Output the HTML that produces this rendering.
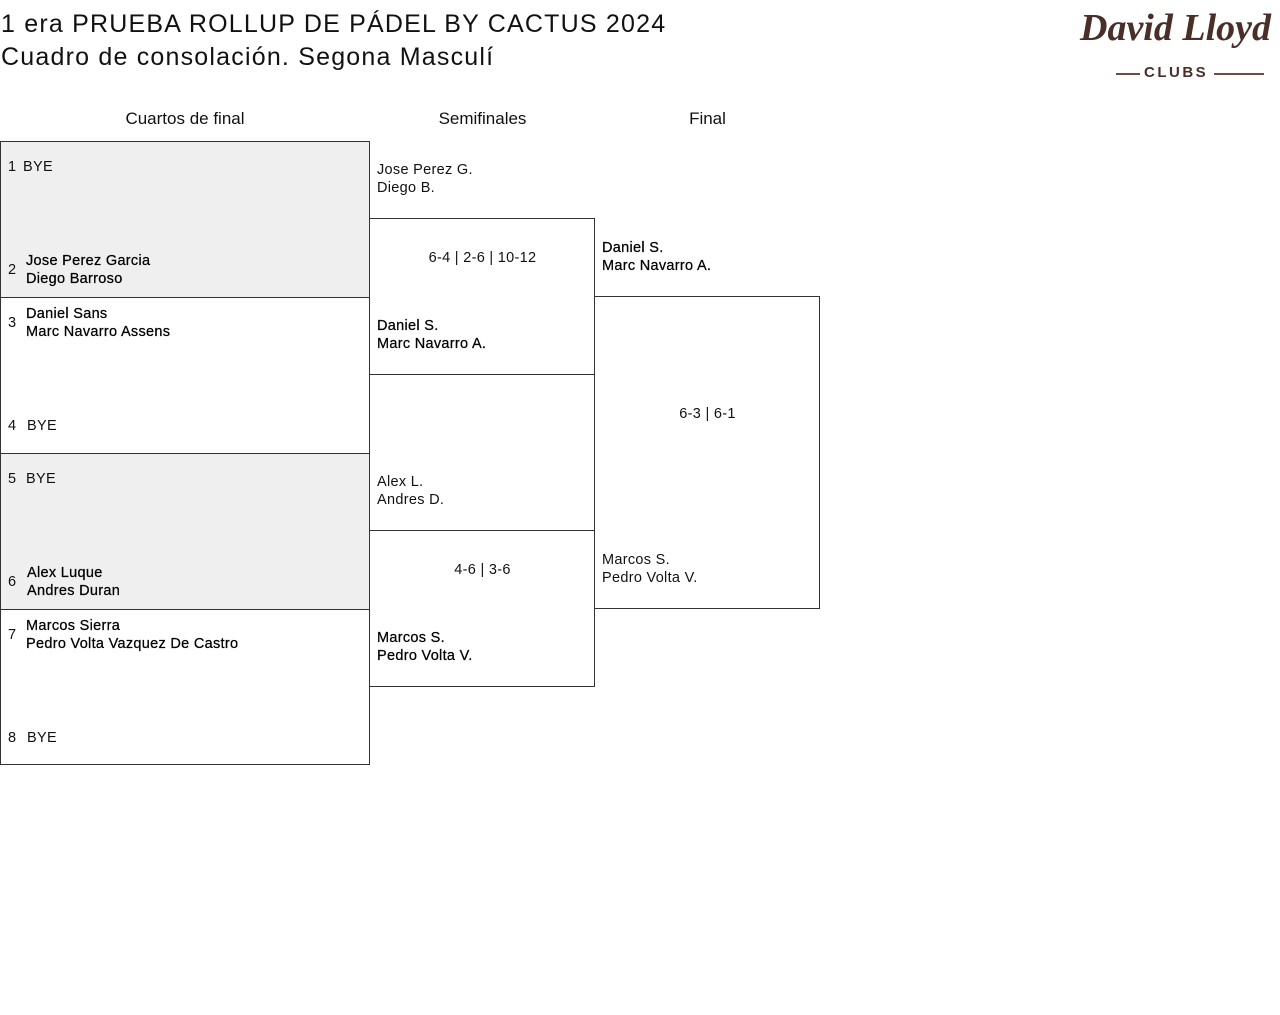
<!DOCTYPE html>
<html><head><meta charset="utf-8"><style>
body{margin:0;width:1280px;height:1015px;background:#fff;position:relative;font-family:"Liberation Sans",sans-serif;color:#111;overflow:hidden}
.a{position:absolute}
.t{font-size:25px;line-height:33px;left:1px;letter-spacing:1.2px;white-space:nowrap}
.h{font-size:17px;text-align:center;top:109px}
.box{position:absolute;border:1px solid #333;box-sizing:border-box}
.n{position:absolute;font-size:14.5px;line-height:18px;white-space:nowrap;letter-spacing:0.3px}
.num{position:absolute;font-size:14.5px}
.w{color:#000;-webkit-text-stroke:0.25px #000}
</style></head><body>
<div class="a t" style="top:8px">1 era PRUEBA ROLLUP DE PÁDEL BY CACTUS 2024</div>
<div class="a t" style="top:41px">Cuadro de consolación. Segona Masculí</div>
<div class="a" style="left:1076px;top:0;width:204px;height:90px;color:#4a2e28">
 <div class="a" style="left:4px;top:6px;font-family:'Liberation Serif',serif;font-style:italic;font-weight:bold;font-size:38px;letter-spacing:0px;white-space:nowrap">David Lloyd</div>
 <div class="a" style="left:68px;top:64px;font-size:15px;letter-spacing:2.5px;font-weight:bold">CLUBS</div>
 <div class="a" style="left:40px;top:73px;width:24px;height:2px;background:#6a4e48"></div>
 <div class="a" style="left:138px;top:73px;width:50px;height:2px;background:#6a4e48"></div>
</div>
<div class="a h" style="left:0;width:370px">Cuartos de final</div>
<div class="a h" style="left:370px;width:225px">Semifinales</div>
<div class="a h" style="left:595px;width:225px">Final</div>

<div class="box" style="left:0;top:141px;width:370px;height:157px;background:#efefef"></div>
<div class="box" style="left:0;top:297px;width:370px;height:157px"></div>
<div class="box" style="left:0;top:453px;width:370px;height:157px;background:#efefef"></div>
<div class="box" style="left:0;top:609px;width:370px;height:156px"></div>

<div class="num" style="left:8px;top:159px">1</div><div class="n" style="left:23px;top:158px">BYE</div>
<div class="num" style="left:8px;top:262px">2</div><div class="n w" style="left:26px;top:252px">Jose Perez Garcia<br>Diego Barroso</div>
<div class="num" style="left:8px;top:315px">3</div><div class="n w" style="left:26px;top:305px">Daniel Sans<br>Marc Navarro Assens</div>
<div class="num" style="left:8px;top:418px">4</div><div class="n" style="left:27px;top:417px">BYE</div>
<div class="num" style="left:8px;top:471px">5</div><div class="n" style="left:26px;top:470px">BYE</div>
<div class="num" style="left:8px;top:574px">6</div><div class="n w" style="left:27px;top:564px">Alex Luque<br>Andres Duran</div>
<div class="num" style="left:8px;top:627px">7</div><div class="n w" style="left:26px;top:617px">Marcos Sierra<br>Pedro Volta Vazquez De Castro</div>
<div class="num" style="left:8px;top:730px">8</div><div class="n" style="left:27px;top:729px">BYE</div>

<div class="box" style="left:369px;top:218px;width:226px;height:157px"></div>
<div class="box" style="left:369px;top:530px;width:226px;height:157px"></div>
<div class="n" style="left:377px;top:161px">Jose Perez G.<br>Diego B.</div>
<div class="n" style="left:370px;width:225px;text-align:center;top:249px">6-4 | 2-6 | 10-12</div>
<div class="n w" style="left:377px;top:317px">Daniel S.<br>Marc Navarro A.</div>
<div class="n" style="left:377px;top:473px">Alex L.<br>Andres D.</div>
<div class="n" style="left:370px;width:225px;text-align:center;top:561px">4-6 | 3-6</div>
<div class="n w" style="left:377px;top:629px">Marcos S.<br>Pedro Volta V.</div>

<div class="box" style="left:594px;top:296px;width:226px;height:313px"></div>
<div class="n w" style="left:602px;top:239px">Daniel S.<br>Marc Navarro A.</div>
<div class="n" style="left:595px;width:225px;text-align:center;top:405px">6-3 | 6-1</div>
<div class="n" style="left:602px;top:551px">Marcos S.<br>Pedro Volta V.</div>
</body></html>
